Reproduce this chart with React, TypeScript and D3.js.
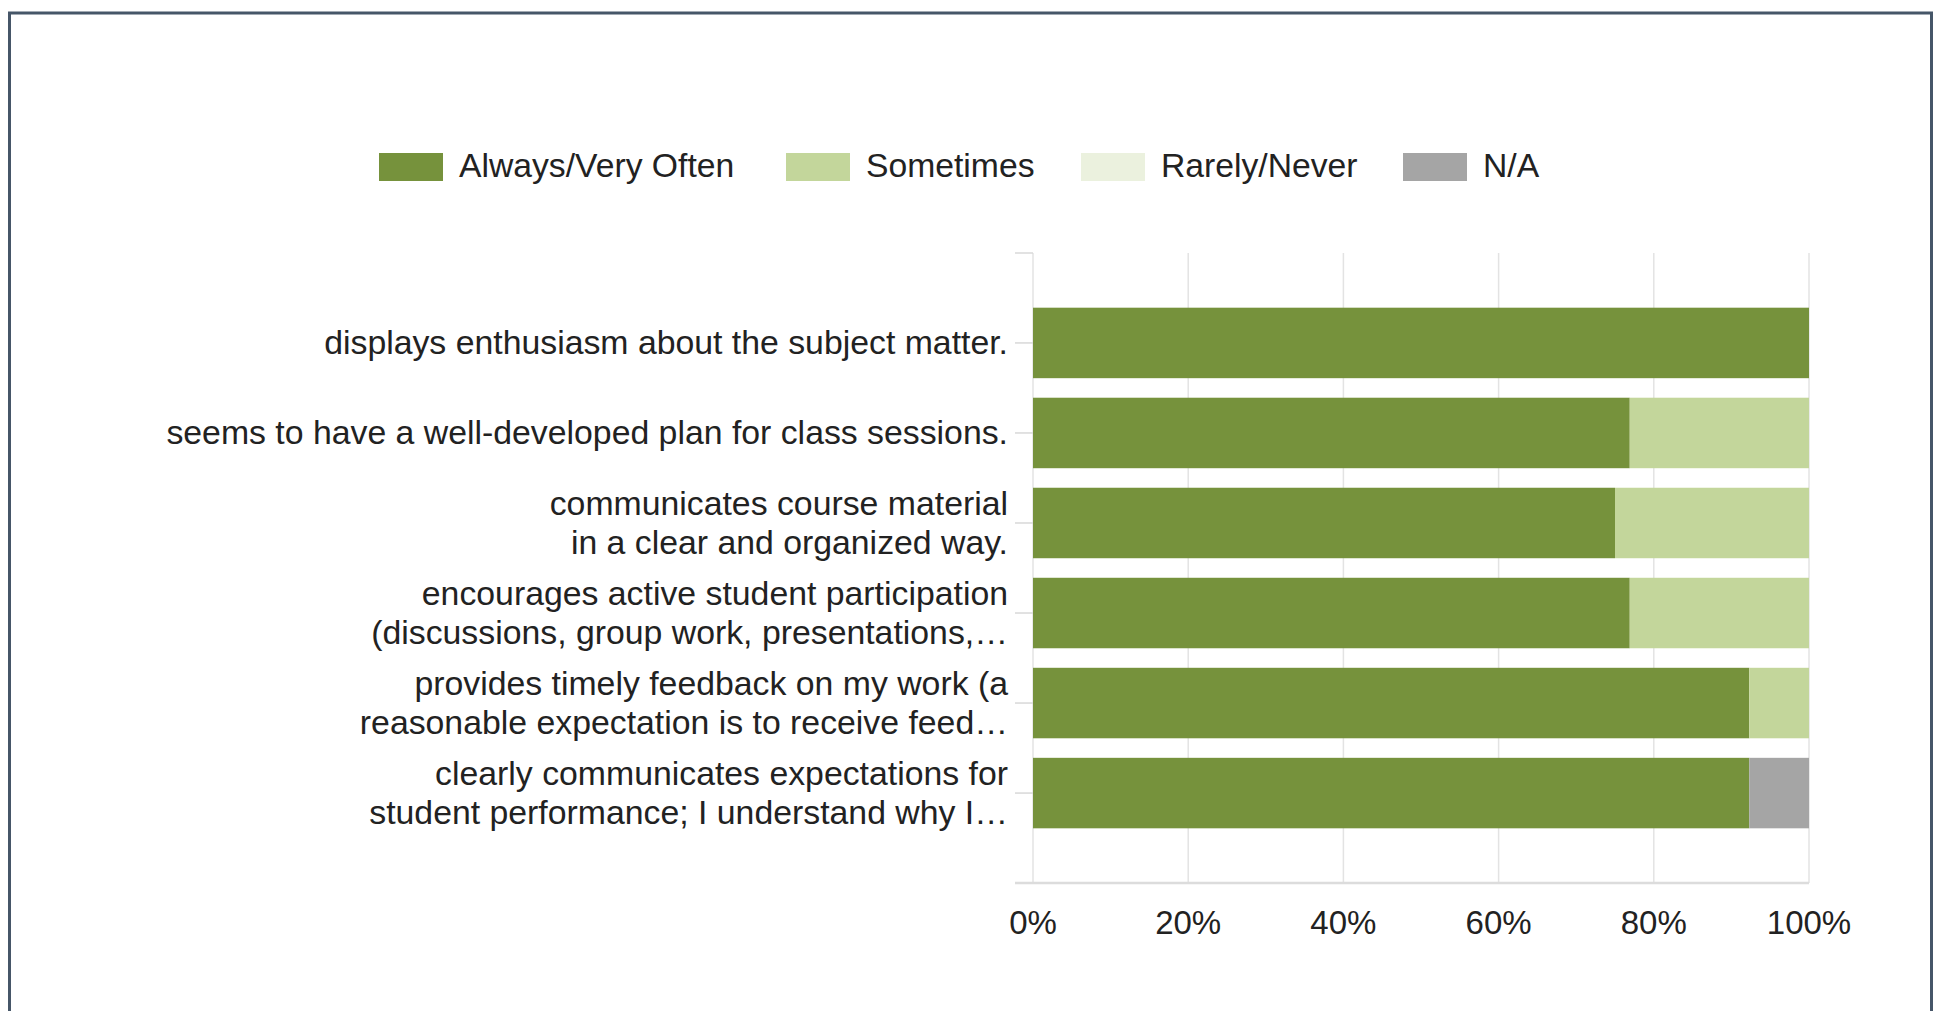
import React from "react";
import * as d3 from "d3";

const categories = [
  "displays enthusiasm about the subject matter.",
  "seems to have a well-developed plan for class sessions.",
  "communicates course material in a clear and organized way.",
  "encourages active student participation (discussions, group work, presentations,...",
  "provides timely feedback on my work (a reasonable expectation is to receive feed...",
  "clearly communicates expectations for student performance; I understand why I...",
];
const labelLines = [
  ["displays enthusiasm about the subject matter."],
  ["seems to have a well-developed plan for class sessions."],
  ["communicates course material", "in a clear and organized way."],
  ["encourages active student participation", "(discussions, group work, presentations,\u2026"],
  ["provides timely feedback on my work (a", "reasonable expectation is to receive feed\u2026"],
  ["clearly communicates expectations for", "student performance; I understand why I\u2026"],
];
const seriesNames = ["Always/Very Often", "Sometimes", "Rarely/Never", "N/A"];
const alwaysVals = [100, 76.9, 75, 76.9, 92.3, 92.3];
const sometimesVals = [0, 23.1, 25, 23.1, 7.7, 0];
const rarelyVals = [0, 0, 0, 0, 0, 0];
const naVals = [0, 0, 0, 0, 0, 7.7];
const xTicks = [0, 20, 40, 60, 80, 100];
const colors = ["#76923c", "#c3d69b", "#ebf1de", "#a5a5a5"];

const W = 1944;
const H = 1011;
const FONT = "'Liberation Sans', Arial, Helvetica, sans-serif";

export default function App() {
  const x = d3.scaleLinear().domain([0, 100]).range([1033, 1809]);
  const y = d3
    .scaleBand<string>()
    .domain(categories)
    .range([253, 883])
    .paddingInner(0.217)
    .paddingOuter(0.6075);

  const rows = categories.map((c, i) => ({
    cat: c,
    [seriesNames[0]]: alwaysVals[i],
    [seriesNames[1]]: sometimesVals[i],
    [seriesNames[2]]: rarelyVals[i],
    [seriesNames[3]]: naVals[i],
  }));
  const stacked = d3.stack<any>().keys(seriesNames)(rows);

  const legendX = [379, 786, 1081, 1403];
  const [y0, y1] = y.range();

  return (
    <div style={{ position: "fixed", left: 0, top: 0, width: W, height: H, background: "#fff" }}>
      <svg width={W} height={H} style={{ display: "block" }} fontFamily={FONT}>
        <rect x={0} y={0} width={W} height={H} fill="#fff" />
        <rect x={9.5} y={13} width={1922} height={1100} fill="none" stroke="#465668" strokeWidth={3} />

        {/* legend */}
        {seriesNames.map((s, i) => (
          <g key={s}>
            <rect x={legendX[i]} y={153} width={64} height={28} fill={colors[i]} />
            <text x={legendX[i] + 80} y={177} fontSize={33.7} fill="#222">
              {s}
            </text>
          </g>
        ))}

        {/* gridlines */}
        {xTicks.map((t) => (
          <line key={t} x1={x(t)} x2={x(t)} y1={y0} y2={y1} stroke="#e3e3e3" strokeWidth={1.5} />
        ))}

        {/* bars */}
        {stacked.map((layer, li) => (
          <g key={layer.key} fill={colors[li]}>
            {layer.map((d, i) =>
              d[1] - d[0] > 0 ? (
                <rect
                  key={i}
                  x={x(d[0])}
                  y={y(categories[i])}
                  width={x(d[1]) - x(d[0])}
                  height={y.bandwidth()}
                />
              ) : null
            )}
          </g>
        ))}

        {/* y ticks */}
        <line x1={1015} x2={1033} y1={y0} y2={y0} stroke="#d8d8d8" strokeWidth={1.5} />
        {categories.map((c) => {
          const cy = (y(c) as number) + y.bandwidth() / 2;
          return <line key={c} x1={1015} x2={1033} y1={cy} y2={cy} stroke="#d8d8d8" strokeWidth={1.5} />;
        })}
        <line x1={1015} x2={x(100)} y1={y1} y2={y1} stroke="#dcdcdc" strokeWidth={2.5} />

        {/* y labels */}
        {categories.map((c, i) => {
          const cy = (y(c) as number) + y.bandwidth() / 2;
          const lines = labelLines[i];
          const lh = 39.5;
          const start = cy - ((lines.length - 1) * lh) / 2;
          return (
            <text key={c} x={1008} textAnchor="end" fontSize={33.8} fill="#222">
              {lines.map((l, k) => (
                <tspan key={k} x={1008} y={start + k * lh + 11.5}>
                  {l}
                </tspan>
              ))}
            </text>
          );
        })}

        {/* x tick labels */}
        {xTicks.map((t) => (
          <text key={t} x={x(t)} y={934} textAnchor="middle" fontSize={33} fill="#222">
            {t + "%"}
          </text>
        ))}
      </svg>
    </div>
  );
}
